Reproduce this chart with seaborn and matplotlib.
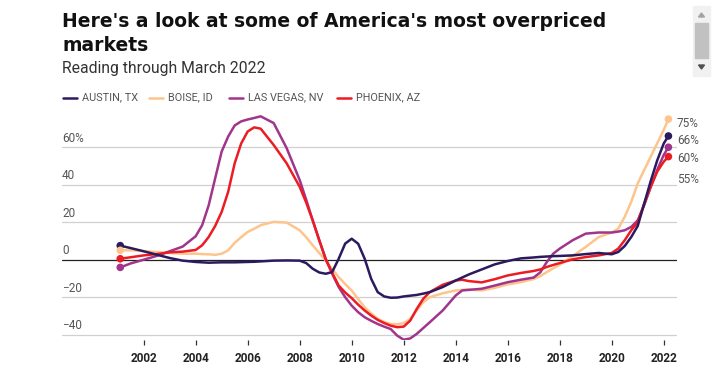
import numpy as np
import pandas as pd
import matplotlib.pyplot as plt
import seaborn as sns
import matplotlib.transforms as mtransforms
from matplotlib.lines import Line2D
from matplotlib.patches import Rectangle, Polygon

# data (percent over/under valued, through March 2022)
years = [2001.1, 2001.5, 2002, 2002.5, 2003, 2003.5, 2004, 2004.25, 2004.5, 2004.75,
         2005, 2005.25, 2005.5, 2005.75, 2006, 2006.25, 2006.5, 2007, 2007.5, 2008,
         2008.25, 2008.5, 2008.75, 2009, 2009.25, 2009.5, 2009.75, 2010, 2010.25, 2010.5,
         2010.75, 2011, 2011.25, 2011.5, 2011.75, 2012, 2012.25, 2012.5, 2012.75, 2013,
         2013.5, 2014, 2014.25, 2014.5, 2015, 2015.5, 2016, 2016.5, 2017, 2017.25,
         2017.5, 2017.75, 2018, 2018.5, 2019, 2019.5, 2020, 2020.25, 2020.5, 2020.75,
         2021, 2021.25, 2021.5, 2021.75, 2022, 2022.18]

austin = [7.5, 6.2, 4.5, 2.7, 0.9, -0.5, -1.2, -1.4, -1.6, -1.5,
          -1.4, -1.4, -1.4, -1.3, -1.2, -1.1, -0.9, -0.5, -0.4, -0.5,
          -1.8, -4.8, -6.8, -7.5, -6.6, 0.5, 8.6, 11.2, 8.5, 0.5,
          -10.2, -17.3, -19.6, -20.3, -20.2, -19.6, -19.2, -18.8, -18.1, -17.3,
          -14.6, -11.1, -9.5, -7.9, -5.2, -2.5, -0.7, 0.7, 1.2, 1.5,
          1.7, 1.9, 2.0, 2.3, 3.0, 3.6, 2.9, 4.1, 7.3, 12.1,
          18.0, 30.0, 42.0, 53.0, 62.0, 66.0]

boise = [5.0, 5.0, 4.6, 4.1, 3.6, 3.2, 3.2, 3.0, 2.9, 2.6,
         3.2, 5.0, 9.0, 12.0, 14.8, 16.5, 18.4, 20.2, 19.8, 15.7,
         12.0, 7.7, 3.6, -0.4, -5.0, -9.3, -13.0, -16.4, -21.0, -25.4,
         -28.7, -31.6, -33.2, -34.3, -34.4, -33.9, -31.6, -27.1, -22.7, -20.0,
         -17.9, -16.4, -16.1, -15.9, -16.4, -15.0, -13.2, -12.0, -10.3, -8.8,
         -6.6, -4.6, -2.7, 2.0, 6.8, 12.1, 14.5, 16.6, 22.9, 30.9,
         40.7, 47.9, 55.0, 62.1, 69.3, 75.0]

las_vegas = [-4.1, -2.0, 0.0, 2.0, 4.5, 7.0, 12.5, 18.4, 29.0, 43.4,
             57.7, 65.7, 71.6, 73.8, 74.8, 75.6, 76.5, 72.9, 59.5, 42.5,
             32.0, 21.0, 10.5, 0.5, -7.5, -14.6, -20.0, -24.5, -28.0, -30.7,
             -32.6, -34.3, -35.7, -37.0, -40.5, -42.7, -42.0, -39.6, -36.5, -33.4,
             -27.1, -19.1, -16.4, -16.1, -15.5, -13.8, -12.0, -10.7, -9.5, -6.8,
             -1.3, 3.2, 5.9, 10.4, 13.9, 14.5, 14.5, 15.0, 15.7, 17.5,
             21.0, 29.1, 38.9, 47.9, 55.9, 60.0]

phoenix = [0.5, 1.3, 2.3, 3.0, 3.9, 4.3, 5.2, 7.7, 12.1, 18.0,
           25.5, 36.2, 51.4, 62.0, 68.4, 70.6, 69.9, 61.2, 51.4, 38.9,
           30.5, 21.0, 10.5, 0.2, -7.0, -13.8, -17.5, -20.5, -24.0, -27.1,
           -29.8, -32.1, -33.8, -35.2, -36.0, -35.7, -32.5, -26.3, -20.9, -17.3,
           -13.4, -11.1, -10.7, -11.4, -12.1, -10.4, -8.4, -7.1, -6.0, -5.2,
           -3.9, -2.8, -1.8, 0.2, 1.4, 2.3, 3.6, 5.9, 10.4, 15.7,
           20.0, 30.0, 38.9, 47.0, 52.3, 55.0]

markets = ['AUSTIN, TX', 'BOISE, ID', 'LAS VEGAS, NV', 'PHOENIX, AZ']
colors = ['#2c1a5f', '#fdc58c', '#a0358b', '#ec1c24']
y_ticks = [-40, -20, 0, 20, 40, 60]
y_labels = ['\u221240', '\u221220', '0', '20', '40', '60%']
x_ticks = list(range(2002, 2023, 2))

df = pd.DataFrame({'year': years, 'AUSTIN, TX': austin, 'BOISE, ID': boise,
                   'LAS VEGAS, NV': las_vegas, 'PHOENIX, AZ': phoenix})
df = df.melt(id_vars='year', var_name='market', value_name='value')
pal = dict(zip(markets, colors))
draw_order = ['BOISE, ID', 'LAS VEGAS, NV', 'PHOENIX, AZ', 'AUSTIN, TX']

sns.set_style('white')
plt.rcParams['font.family'] = ['Roboto', 'DejaVu Sans']

W, H = 727, 377
fig = plt.figure(figsize=(W / 100, H / 100), dpi=100)
ax = fig.add_axes([62 / W, (H - 340.3) / H, (677 - 62) / W, (340.3 - 106) / H])

# grid lines first, under the data
for v in y_ticks:
    if v == 0:
        ax.axhline(0, color='#222222', lw=0.9, zorder=1)
    else:
        ax.axhline(v, color='#d0d0d0', lw=0.9, zorder=0)

sns.lineplot(data=df, x='year', y='value', hue='market', hue_order=draw_order,
             palette=pal, estimator=None, lw=1.8, legend=False, ax=ax, zorder=3)

ends = df[df['year'].isin([years[0], years[-1]])]
sns.scatterplot(data=ends, x='year', y='value', hue='market', hue_order=draw_order,
                palette=pal, s=30, linewidth=0, legend=False, ax=ax, zorder=4)

ax.set_xlim(1998.86, 2022.51)
ax.set_ylim(-43, 82)
for s in ax.spines.values():
    s.set_visible(False)
ax.set_xlabel('')
ax.set_ylabel('')
ax.set_yticks([])
ax.set_xticks(x_ticks)
ax.set_xticklabels([str(x) for x in x_ticks], fontsize=8.5, weight='bold', color='#222222')
ax.tick_params(axis='x', bottom=True, direction='out', length=3.5, width=0.9,
               color='#333333', pad=5)

# y labels sit on top of their grid lines at the left edge
blend = mtransforms.blended_transform_factory(ax.transAxes, ax.transData)
for v, lab in zip(y_ticks, y_labels):
    ax.text(0, v + 3, lab, transform=blend, ha='left', va='baseline',
            fontsize=8.5, color='#555555')

# end value labels
label_y = [72.4, 63.5, 53.9, 43.0]
for (series, yy) in zip([boise, austin, las_vegas, phoenix], label_y):
    ax.text(1.0, yy, f'{round(series[-1])}%', transform=blend, ha='left', va='center',
            fontsize=8.5, color='#555555', clip_on=False)

# titles
title_font = ['DejaVu Sans']
fig.text(62 / W, 1 - 27.3 / H, "Here's a look at some of America's most overpriced",
         fontsize=13.5, weight='bold', family=title_font, color='#111111', va='baseline')
fig.text(62 / W, 1 - 50.7 / H, 'markets', fontsize=13.5, weight='bold',
         family=title_font, color='#111111', va='baseline')
fig.text(62 / W, 1 - 73.3 / H, 'Reading through March 2022', fontsize=11.3,
         color='#333333', va='baseline')

# legend drawn by hand
leg_x = [62.7, 149, 229, 337]
for x0, name in zip(leg_x, markets):
    fig.add_artist(Line2D([x0 / W, (x0 + 14) / W], [1 - 97.7 / H] * 2,
                          color=pal[name], lw=1.8, transform=fig.transFigure))
    fig.text((x0 + 19.5) / W, 1 - 97.7 / H, name, fontsize=7.8,
             color='#555555', va='center')

# scrollbar of the screenshot
fig.add_artist(Rectangle((693 / W, 1 - 76 / H), 17 / W, 70 / H, color='#f1f1f1',
                         transform=fig.transFigure))
fig.add_artist(Rectangle((695 / W, 1 - 58 / H), 13 / W, 35 / H, color='#c1c1c1',
                         transform=fig.transFigure))
fig.add_artist(Polygon([[698.5 / W, 1 - 17 / H], [704.5 / W, 1 - 17 / H], [701.5 / W, 1 - 13 / H]],
                       color='#a3a3a3', transform=fig.transFigure))
fig.add_artist(Polygon([[698.5 / W, 1 - 65 / H], [704.5 / W, 1 - 65 / H], [701.5 / W, 1 - 69 / H]],
                       color='#505050', transform=fig.transFigure))

fig.savefig('out.png', dpi=100, facecolor='white')
